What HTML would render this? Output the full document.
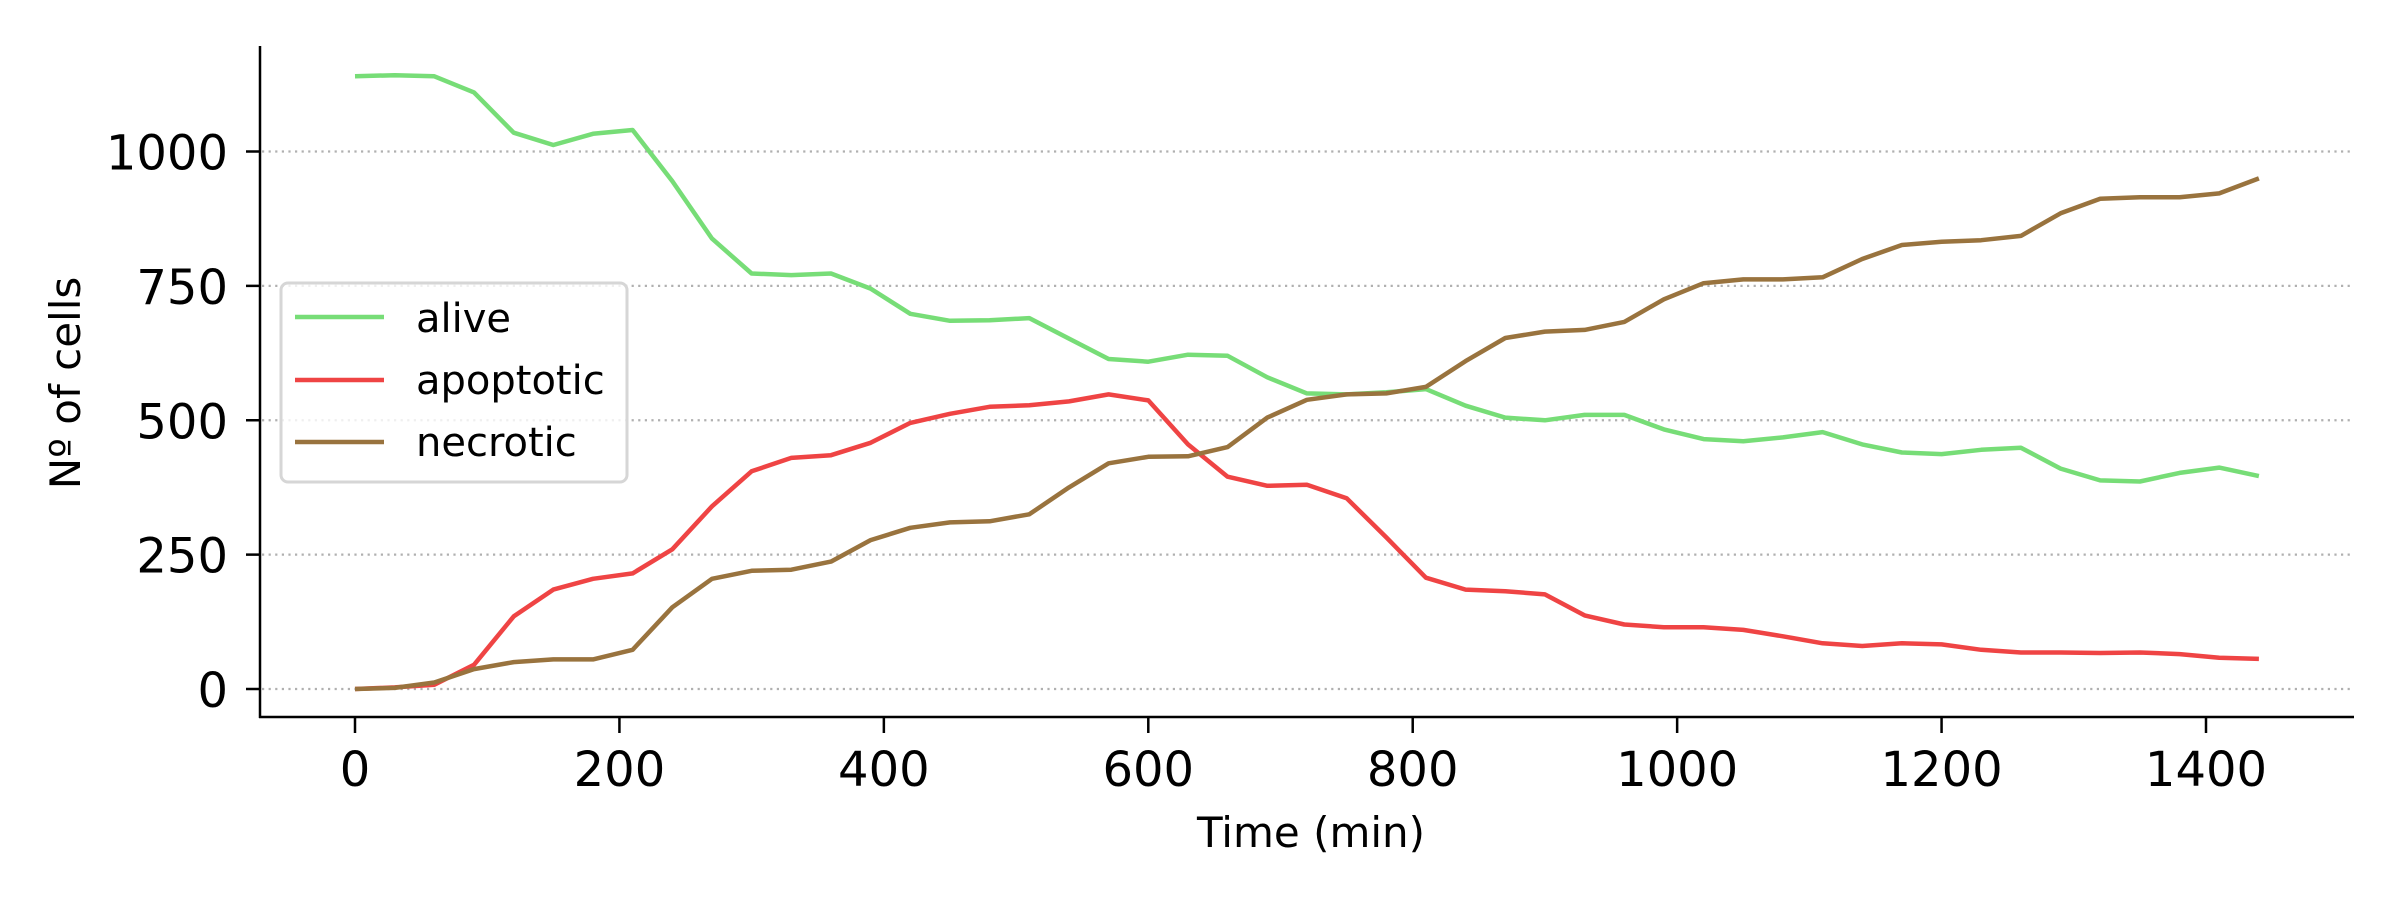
<!DOCTYPE html>
<html><head><meta charset="utf-8"><style>
html,body{margin:0;padding:0;background:#fff;}
svg{display:block;font-family:"DejaVu Sans","Liberation Sans",sans-serif;}
</style></head><body>
<svg id="chart" width="2400" height="900" viewBox="0 0 2400 900">
<g id="grid"></g>
<g id="series"></g>
<g id="axes"></g>
<text x="1311" y="847" font-size="42" text-anchor="middle">Time (min)</text>
<text x="0" y="0" font-size="42" text-anchor="middle" transform="translate(80,383) rotate(-90)">Nº of cells</text>
<g>
<rect x="281" y="283" width="346" height="199" rx="7" fill="#fff" fill-opacity="0.8" stroke="#d6d6d6" stroke-width="3"/>
<line x1="295" y1="317" x2="384" y2="317" stroke="#77dd77" stroke-width="4.5"/>
<text x="416" y="332" font-size="40">alive</text>
<line x1="295" y1="380" x2="384" y2="380" stroke="#ef4444" stroke-width="4.5"/>
<text x="416" y="394" font-size="40">apoptotic</text>
<line x1="295" y1="442" x2="384" y2="442" stroke="#99733e" stroke-width="4.5"/>
<text x="416" y="456" font-size="40">necrotic</text>
</g>
</svg>
<script>
const times = [];
for (let t = 0; t <= 1440; t += 30) times.push(t);
const alive = [1140,1142,1140,1110,1035,1012,1033,1040,945,838,773,770,773,745,698,685,686,690,652,614,609,622,620,580,550,548,552,558,527,505,500,510,510,483,465,461,468,478,455,440,437,445,449,410,388,386,402,412,396];
const apoptotic = [0,3,8,45,135,185,205,215,260,340,405,430,435,458,495,512,525,528,535,548,537,455,395,378,380,355,282,207,185,182,176,137,120,115,115,110,98,85,80,85,83,73,68,68,67,68,65,58,56];
const necrotic = [0,2,12,37,50,55,55,73,152,205,220,222,237,277,300,310,312,325,375,420,432,433,450,505,538,548,550,562,610,653,665,668,683,725,755,762,762,766,800,826,832,835,843,885,912,915,915,922,950];
const xTicks = [0,200,400,600,800,1000,1200,1400];
const yTicks = [0,250,500,750,1000];

const NS = "http://www.w3.org/2000/svg";
function xs(v){ return 355 + v * (2206 - 355) / 1400; }
function ys(v){ return 689 - v * (689 - 151.5) / 1000; }
function mk(tag, attrs, parent){ const e = document.createElementNS(NS, tag); for (const k in attrs) e.setAttribute(k, attrs[k]); parent.appendChild(e); return e; }

const grid = document.getElementById('grid');
const axes = document.getElementById('axes');
const series = document.getElementById('series');

yTicks.forEach(v => {
  const g = mk('line', {x1:262, x2:2354, y1:ys(v), y2:ys(v), stroke:'#b0b0b0', 'stroke-width':2.2, 'stroke-dasharray':'2.2 4.4'}, grid);
  
  
  const t = mk('line', {x1:246, x2:260, y1:ys(v), y2:ys(v), stroke:'#000', 'stroke-width':2.5}, axes);
  
  
  const l = mk('text', {x:228, y:ys(v)+18, 'font-size':48, 'text-anchor':'end'}, axes);
  l.textContent = v;
  
  
});
xTicks.forEach(v => {
  const t = mk('line', {x1:xs(v), x2:xs(v), y1:717, y2:733, stroke:'#000', 'stroke-width':2.5}, axes);
  
  
  const l = mk('text', {x:xs(v), y:786, 'font-size':48, 'text-anchor':'middle'}, axes);
  l.textContent = v;
  
  
});
const ls = mk('line', {x1:260, x2:260, y1:46, y2:718, stroke:'#000', 'stroke-width':2.5}, axes);


const bs = mk('line', {x1:259, x2:2354, y1:717, y2:717, stroke:'#000', 'stroke-width':2.5}, axes);



function drawLine(vals, color, name){
  const pts = vals.map((v,i) => xs(times[i]).toFixed(1) + ',' + ys(v).toFixed(1)).join(' ');
  const p = mk('polyline', {points:pts, fill:'none', stroke:color, 'stroke-width':4.5, 'stroke-linejoin':'round'}, series);
  
  
}
drawLine(alive, '#77dd77', 'line-alive');
drawLine(apoptotic, '#ef4444', 'line-apoptotic');
drawLine(necrotic, '#99733e', 'line-necrotic');
</script>
</body></html>
